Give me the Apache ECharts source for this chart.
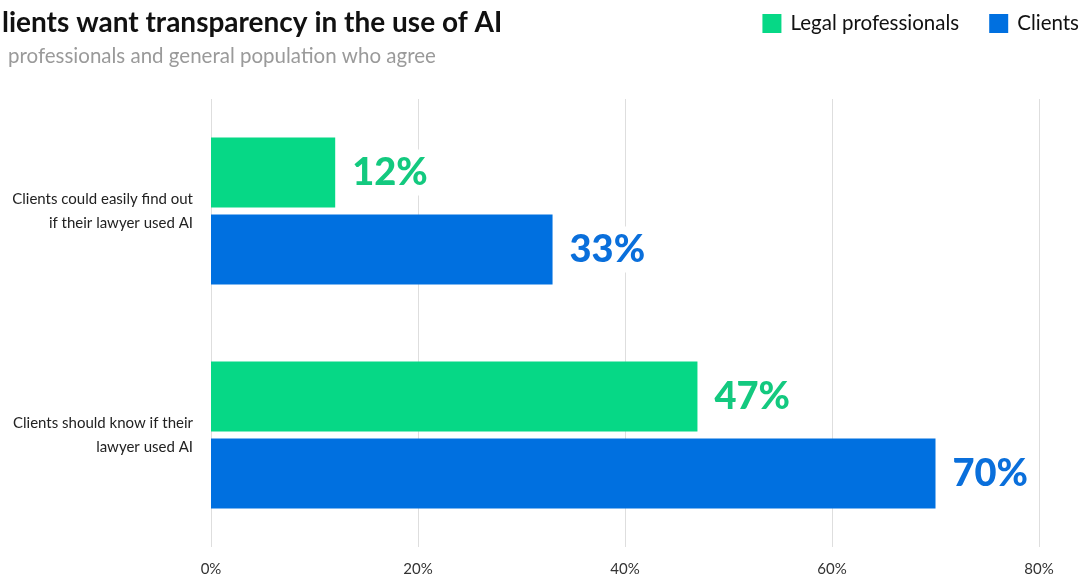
<!DOCTYPE html>
<html>
<head>
<meta charset="utf-8">
<script src="https://cdn.jsdelivr.net/npm/echarts@6/dist/echarts.min.js"></script>
<style>
  html, body { margin: 0; padding: 0; background: #fff; }
  #chart { width: 1084px; height: 577px; }
</style>
</head>
<body>
<div id="chart"></div>
<script>
// Survey statements shown on the vertical axis
const categories = [
  'Clients could easily find out\nif their lawyer used AI',
  'Clients should know if their\nlawyer used AI'
];
// Share who agree, in percent
const legalProfessionals = [12, 47];
const clients = [33, 70];
const seriesNames = ['Legal professionals', 'Clients'];
// Value axis ticks
const tickValues = [0, 20, 40, 60, 80];

const FONT = 'Lato, "Noto Sans", sans-serif';
const GREEN = '#06D886';
const BLUE = '#0070E0';

const chart = echarts.init(document.getElementById('chart'), null, { renderer: 'canvas' });

function valueLabel(color) {
  return {
    show: true,
    position: 'right',
    distance: 11,
    formatter: p => p.value + '%',
    color: color,
    fontFamily: FONT,
    fontWeight: 900,
    fontSize: 38,
    backgroundColor: '#fff',
    padding: [4, 6]
  };
}

chart.setOption({
  animation: false,
  backgroundColor: '#fff',
  title: [
    {
      text: 'lients want transparency in the use of AI',
      left: -3,
      top: 4,
      textStyle: { fontFamily: FONT, fontWeight: 'bold', fontSize: 28, color: '#111' }
    },
    {
      text: 'professionals and general population who agree',
      left: 3,
      top: 41,
      textStyle: { fontFamily: FONT, fontWeight: 'normal', fontSize: 20.5, color: '#9a9a9a' }
    }
  ],
  legend: {
    right: 0,
    top: 8,
    itemWidth: 19,
    itemHeight: 19,
    itemGap: 30,
    icon: 'rect',
    textStyle: { fontFamily: FONT, fontSize: 20.5, color: '#111', padding: [0, 0, 0, 4] },
    data: seriesNames
  },
  grid: { left: 211, right: 45, top: 99, bottom: 28, containLabel: false },
  xAxis: {
    type: 'value',
    min: 0,
    max: 80,
    interval: 20,
    axisLine: { show: false },
    axisTick: { show: false },
    splitLine: { show: true, lineStyle: { color: '#dedede', width: 1 } },
    axisLabel: {
      formatter: v => (tickValues.includes(v) ? v + '%' : ''),
      fontFamily: FONT,
      fontSize: 15,
      color: '#333',
      margin: 15
    }
  },
  yAxis: {
    type: 'category',
    inverse: true,
    data: categories,
    axisLine: { show: false },
    axisTick: { show: false },
    axisLabel: {
      fontFamily: FONT,
      fontSize: 15,
      color: '#222',
      lineHeight: 24,
      margin: 18,
      align: 'right'
    }
  },
  series: [
    {
      name: seriesNames[0],
      type: 'bar',
      data: legalProfessionals,
      barWidth: 70,
      barGap: '10%',
      itemStyle: { color: GREEN },
      label: valueLabel('#13C97F')
    },
    {
      name: seriesNames[1],
      type: 'bar',
      data: clients,
      barWidth: 70,
      barGap: '10%',
      itemStyle: { color: BLUE },
      label: valueLabel('#0A6FDB')
    }
  ]
});
</script>
</body>
</html>
